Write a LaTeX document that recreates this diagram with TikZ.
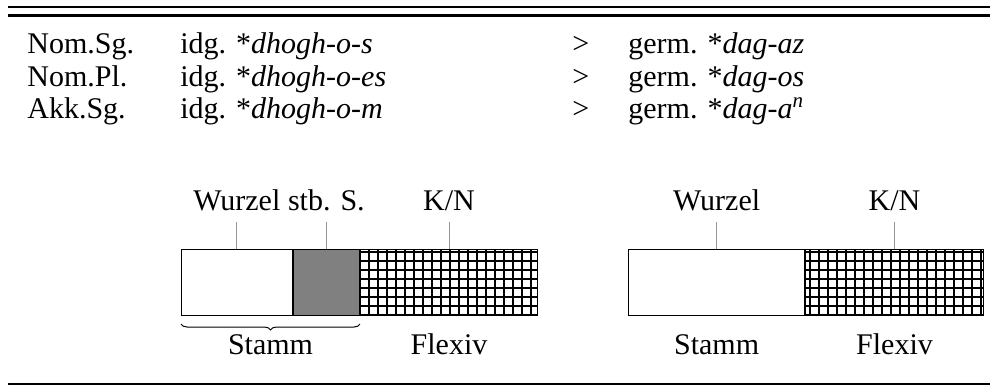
\documentclass[tikz,border=0pt]{standalone}
\usepackage{fontspec}
\setmainfont{Liberation Serif}
\usetikzlibrary{positioning}
\usetikzlibrary{calc}
\usetikzlibrary{decorations.pathreplacing}
\definecolor{leader}{RGB}{150,150,150}
\definecolor{stem}{RGB}{128,128,128}

\begin{document}
\begin{tikzpicture}[x=0.5pt, y=-0.5pt,
  txt/.style={inner sep=0pt, anchor=base west, font=\fontsize{15}{18}\selectfont},
  lbl/.style={inner sep=0pt, anchor=base, font=\fontsize{15}{18}\selectfont},
  seg/.style={draw, line width=0.5pt, inner sep=0pt, anchor=north west, minimum height=33pt, minimum width=#1},
  gridline/.style={line width=0.55pt, step=4.5pt},
  leader/.style={draw=leader, line width=0.5pt}]

\useasboundingbox (0,0) rectangle (990,387);

% rules
\draw [line width=0.7pt] (8,7) -- (990,7);
\draw [line width=1.3pt] (8,15.3) -- (990,15.3);
\draw [line width=1.3pt] (8,384) -- (990,384);

% the three forms
\node [txt] (case1) at (27,53) {Nom.Sg.};
\node [txt] (idg1) at (180,53) {idg. *\textit{dhogh-o-s}};
\node [txt] (gt1) at (572,53) {>};
\node [txt] (germ1) at (628,53) {germ. *\textit{dag-az}};

\node [txt] (case2) at (27,86) {Nom.Pl.};
\node [txt] (idg2) at (180,86) {idg. *\textit{dhogh-o-es}};
\node [txt] (gt2) at (572,86) {>};
\node [txt] (germ2) at (628,86) {germ. *\textit{dag-os}};

\node [txt] (case3) at (27,118) {Akk.Sg.};
\node [txt] (idg3) at (180,118) {idg. *\textit{dhogh-o-m}};
\node [txt] (gt3) at (572,118) {>};
\node [txt] (germ3) at (628,118) {germ. *\textit{dag-a\textsuperscript{n}}};

% left word: root, stem suffix, flexive
\node [seg=55.35pt] (wurzelA) at (181,249) {};
\node [seg=33.15pt, fill=stem] (stbA) at (wurzelA.north east) {};
\node [seg=88.5pt] (flexA) at (stbA.north east) {};
\draw [gridline] (flexA.south west) grid (flexA.north east);

\node [lbl] (wurzelA-l) at ($(wurzelA.north)+(0,-39)$) {Wurzel};
\node [lbl] (stbA-l) at ($(stbA.north)+(0,-39)$) {stb. S.};
\node [lbl] (flexA-l) at ($(flexA.north)+(0,-39)$) {K/N};
\draw [leader] (wurzelA.north) -- ($(wurzelA-l.base)+(0,12)$);
\draw [leader] (stbA.north) -- ($(stbA-l.base)+(0,12)$);
\draw [leader] (flexA.north) -- ($(flexA-l.base)+(0,12)$);

\draw [decorate, decoration={brace, mirror, amplitude=3pt}, line width=0.5pt]
  ($(wurzelA.south west)+(0,8)$) -- ($(stbA.south east)+(0,8)$);
\node [lbl] (stammA) at ($(wurzelA.south west)!0.5!(stbA.south east)+(0,38)$) {Stamm};
\node [lbl] (flexivA) at ($(flexA.south)+(0,38)$) {Flexiv};

% right word: root, flexive
\node [seg=88.15pt] (wurzelB) at (628,249) {};
\node [seg=88.7pt] (flexB) at (wurzelB.north east) {};
\draw [gridline] (flexB.south west) grid (flexB.north east);

\node [lbl] (wurzelB-l) at ($(wurzelB.north)+(0,-39)$) {Wurzel};
\node [lbl] (flexB-l) at ($(flexB.north)+(0,-39)$) {K/N};
\draw [leader] (wurzelB.north) -- ($(wurzelB-l.base)+(0,12)$);
\draw [leader] (flexB.north) -- ($(flexB-l.base)+(0,12)$);

\node [lbl] (stammB) at ($(wurzelB.south)+(0,38)$) {Stamm};
\node [lbl] (flexivB) at ($(flexB.south)+(0,38)$) {Flexiv};

\end{tikzpicture}
\end{document}
